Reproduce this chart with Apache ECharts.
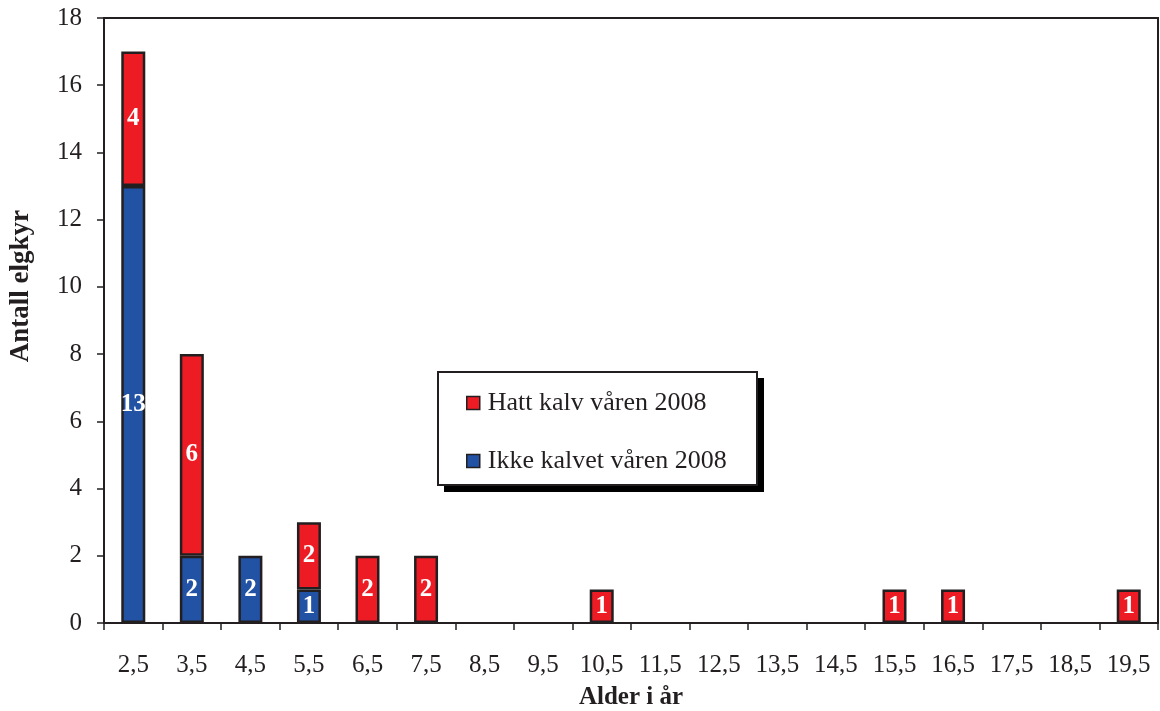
<!DOCTYPE html>
<html><head><meta charset="utf-8">
<script src="https://cdn.jsdelivr.net/npm/echarts@6/dist/echarts.min.js"></script>
<style>html,body{margin:0;padding:0;background:#fff}#c{width:1160px;height:711px}</style>
</head><body><div id="c"></div>
<script>
const categories = ['2,5','3,5','4,5','5,5','6,5','7,5','8,5','9,5','10,5','11,5','12,5','13,5','14,5','15,5','16,5','17,5','18,5','19,5'];
const ikkeKalvet = [13,2,2,1,0,0,0,0,0,0,0,0,0,0,0,0,0,0];
const hattKalv   = [4,6,0,2,2,2,0,0,1,0,0,0,0,1,1,0,0,1];
const yTicks = [0,2,4,6,8,10,12,14,16,18];
const nameRed = 'Hatt kalv våren 2008';
const nameBlue = 'Ikke kalvet våren 2008';

const font = '"Liberation Serif","Times New Roman",serif';
const ink = '#231f20';
const toData = arr => arr.map(v => v === 0 ? null : v);
const lbl = {show:true, position:'inside', color:'#fff', fontFamily:font, fontWeight:'bold', fontSize:25};

const chart = echarts.init(document.getElementById('c'));
chart.setOption({
  animation:false,
  grid:{left:104, right:2, top:18, bottom:88, containLabel:false, outerBoundsMode:'none',
    show:true, borderColor:ink, borderWidth:2, backgroundColor:'transparent'},
  xAxis:{type:'category', data:categories,
    axisLine:{lineStyle:{color:ink,width:2}},
    axisTick:{show:true, alignWithLabel:false, length:7, lineStyle:{color:ink,width:1.5}},
    axisLabel:{color:ink, fontFamily:font, fontSize:25, margin:30},
    name:'Alder i år', nameLocation:'middle', nameGap:62,
    nameTextStyle:{color:ink, fontFamily:font, fontSize:25, fontWeight:'bold'}},
  yAxis:{type:'value', min:yTicks[0], max:yTicks[yTicks.length-1], interval:2,
    splitLine:{show:false},
    axisLine:{show:true, lineStyle:{color:ink,width:2}},
    axisTick:{show:true, length:7, lineStyle:{color:ink,width:1.5}},
    axisLabel:{color:ink, fontFamily:font, fontSize:25, margin:22}},
  legend:{orient:'vertical', left:466, top:390, z:10,
    data:[nameRed, nameBlue], itemWidth:13, itemHeight:13, itemGap:32,
    padding:0, icon:'rect',
    itemStyle:{borderColor:ink, borderWidth:1.5},
    textStyle:{color:ink, fontFamily:font, fontSize:26, padding:[0,0,0,3]}},
  series:[
    {name:nameBlue, type:'bar', stack:'a', data:toData(ikkeKalvet), barWidth:24,
     itemStyle:{color:'#2252a3', borderColor:ink, borderWidth:2.5}, label:lbl},
    {name:nameRed, type:'bar', stack:'a', data:toData(hattKalv), barWidth:24,
     itemStyle:{color:'#ed1c24', borderColor:ink, borderWidth:2.5}, label:lbl}
  ],
  graphic:[
    {type:'rect', z:5, shape:{x:444, y:378, width:320, height:114}, style:{fill:'#000'}},
    {type:'rect', z:6, shape:{x:438, y:372, width:319, height:113}, style:{fill:'#fff', stroke:ink, lineWidth:2}},
    {type:'text', left:8, top:210, rotation:Math.PI/2,
     style:{text:'Antall elgkyr', fill:ink, font:'bold 27px '+font}}]
});
</script></body></html>
